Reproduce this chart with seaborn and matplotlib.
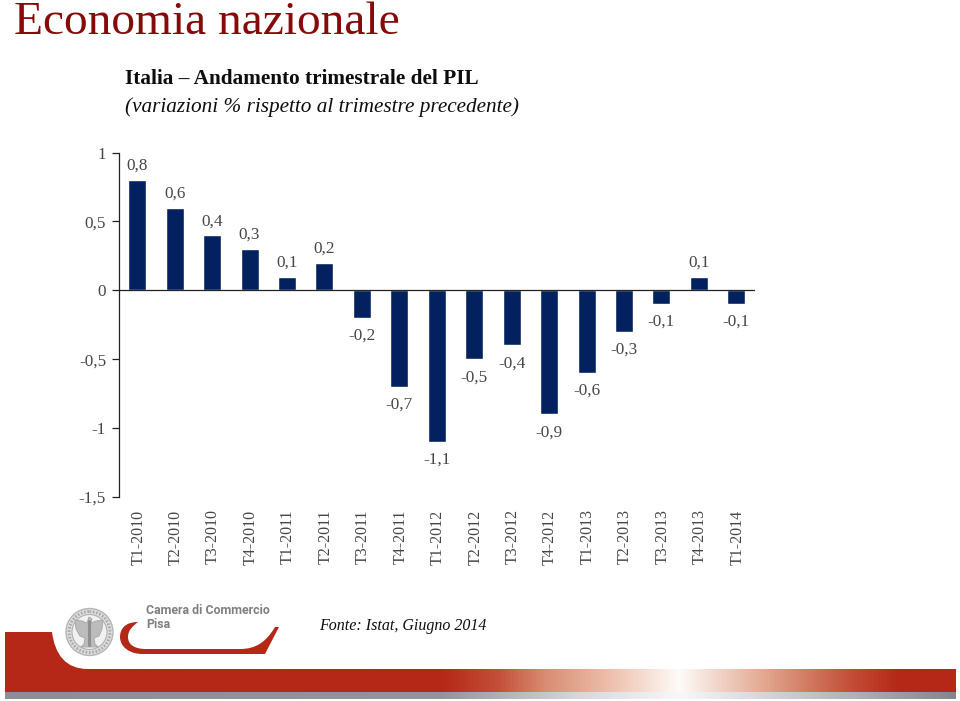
import numpy as np
import matplotlib
matplotlib.use("Agg")
import matplotlib.pyplot as plt
from matplotlib.colors import LinearSegmentedColormap
from matplotlib.patches import Circle, PathPatch, Polygon
from matplotlib.path import Path
from matplotlib.transforms import ScaledTranslation
import seaborn as sns

# Data
periods = ["T1-2010", "T2-2010", "T3-2010", "T4-2010", "T1-2011", "T2-2011",
           "T3-2011", "T4-2011", "T1-2012", "T2-2012", "T3-2012", "T4-2012",
           "T1-2013", "T2-2013", "T3-2013", "T4-2013", "T1-2014"]
gdp_change = [0.8, 0.6, 0.4, 0.3, 0.1, 0.2, -0.2, -0.7, -1.1, -0.5, -0.4, -0.9,
              -0.6, -0.3, -0.1, 0.1, -0.1]
y_ticks = [1, 0.5, 0, -0.5, -1, -1.5]
y_tick_labels = ["1", "0,5", "0", "-0,5", "-1", "-1,5"]

W, H = 960, 701
NAVY = "#03215f"
RED = "#b52817"
TEXT = "#454545"

sns.set_theme(style="white")
plt.rcParams["font.family"] = ["Liberation Serif", "DejaVu Serif"]

fig = plt.figure(figsize=(W / 100, H / 100), dpi=100, facecolor="white")

# Overlay in pixel coordinates for the slide furniture
bg = fig.add_axes([0, 0, 1, 1])
bg.axis("off")

red_grad = LinearSegmentedColormap.from_list(
    "band", [(0, RED), (0.46, RED), (0.52, "#c4503a"), (0.57, "#d98e75"), (0.645, "#efc6b4"),
             (0.71, "#fefbf9"), (0.80, "#e3a78f"), (0.889, "#c4503a"), (0.94, RED), (1, RED)])
grey_grad = LinearSegmentedColormap.from_list(
    "strip", [(0, "#8e8f96"), (0.46, "#94959c"), (0.60, "#d5d6da"), (0.71, "#f8f8f9"),
              (0.85, "#c2c3c8"), (1, "#85868d")])
ramp = np.linspace(0, 1, 512).reshape(1, -1)
bg.imshow(ramp, cmap=red_grad, extent=(5, 956, 692, 669), aspect="auto", zorder=1)
bg.imshow(ramp, cmap=grey_grad, extent=(5, 956, 699, 692), aspect="auto", zorder=1)
bg.set_xlim(0, W)
bg.set_ylim(H, 0)

# curved red corner on the left of the band
corner = Path([(5, 632), (52, 632), (55, 655), (66, 669), (88, 669), (88, 670), (5, 670), (5, 632)],
              [Path.MOVETO, Path.LINETO, Path.CURVE4, Path.CURVE4, Path.CURVE4,
               Path.LINETO, Path.LINETO, Path.CLOSEPOLY])
bg.add_patch(PathPatch(corner, fc=RED, ec="none", zorder=2))

# logo: seal
bg.add_patch(Circle((89.5, 632), 23.5, fc="#dedede", ec="#b5b5b5", lw=1, zorder=2))
bg.add_patch(Circle((89.5, 632), 20.5, fc="none", ec="#a8a8a8", lw=2, ls=(0, (0.6, 0.6)), zorder=3))
bg.add_patch(Circle((89.5, 632), 17.5, fc="#f1f1f1", ec="#b0b0b0", lw=0.8, zorder=3))
eagle = [(89, 617), (92, 619), (91, 623), (96, 621), (103, 620), (102, 629), (99, 636), (94, 638),
         (95, 644), (98, 647), (81, 647), (84, 644), (85, 638), (80, 636), (76, 629), (75, 620),
         (82, 621), (87, 623)]
bg.add_patch(Polygon(eagle, closed=True, fc="#bcbcbc", ec="#a5a5a5", lw=0.6, zorder=4))
bg.plot([89, 89], [621, 645], color="#8f8f8f", lw=2.2, zorder=5)

# logo: swoosh
swoosh = Path([(138, 622), (124, 622), (120, 630), (120, 637), (120, 647), (130, 654), (142, 654),
               (265, 654), (279, 627), (275, 627),
               (266, 642), (256, 649), (240, 649),
               (146, 649), (135, 649), (128, 645), (128, 637), (128, 630), (133, 626), (138, 622)],
              [Path.MOVETO, Path.CURVE4, Path.CURVE4, Path.CURVE4, Path.CURVE4, Path.CURVE4, Path.CURVE4,
               Path.LINETO, Path.LINETO, Path.LINETO,
               Path.CURVE4, Path.CURVE4, Path.CURVE4,
               Path.LINETO, Path.CURVE4, Path.CURVE4, Path.CURVE4, Path.CURVE4, Path.CURVE4, Path.CURVE4])
bg.add_patch(PathPatch(swoosh, fc=RED, ec="none", zorder=2))
bg.text(146, 611, "Camera di Commercio", family=["Roboto", "Liberation Sans"],
        fontsize=8.9, fontweight="bold", color="#808080", va="center", ha="left")
bg.text(146, 624, "Pisa", family=["Roboto", "Liberation Sans"], fontsize=8.9, fontweight="bold",
        color="#808080", va="center", ha="left")

# Slide text
bg.text(14, 23, "Economia nazionale", fontsize=34.2, color="#860a0a", va="center", ha="left")
bg.text(125, 79.5, "Italia – Andamento trimestrale del PIL", fontsize=15.3, fontweight="bold",
        color="#0d0d0d", va="center", ha="left")
bg.text(125, 107, "(variazioni % rispetto al trimestre precedente)", fontsize=15.3, style="italic",
        color="#0d0d0d", va="center", ha="left")
bg.text(319, 626, "Fonte: Istat, Giugno 2014", fontsize=11.5, style="italic",
        color="#0d0d0d", va="center", ha="left")

# Chart: y=1 at 152.5px, y=-1.5 at 497px, x from 118.5 to 755px
ax = fig.add_axes([118.5 / W, 1 - 497 / H, (755 - 118.5) / W, (497 - 152.5) / H])
ax.patch.set_alpha(0)
sns.barplot(x=periods, y=gdp_change, color=NAVY, saturation=1, width=0.48, ax=ax)
ax.set_xlim(-0.5, len(periods) - 0.5)
ax.set_ylim(-1.5, 1)

ax.set_yticks(y_ticks)
ax.set_yticklabels(y_tick_labels)
ax.tick_params(axis="y", length=5, width=0.9, color="#222222", labelsize=12.3, labelcolor=TEXT, pad=4, left=True)
ax.tick_params(axis="x", length=0, labelsize=11.5, labelcolor=TEXT, rotation=90, pad=9)
nudge = ScaledTranslation(1 / 100, 0, fig.dpi_scale_trans)
for lab in ax.get_xticklabels():
    lab.set_transform(lab.get_transform() + nudge)

sns.despine(ax=ax, top=True, right=True)
ax.spines["left"].set_linewidth(0.9)
ax.spines["left"].set_color("#222222")
ax.spines["bottom"].set_visible(False)
ax.axhline(0, color="#222222", lw=0.9, zorder=5)

for i, v in enumerate(gdp_change):
    label = f"{v:.1f}".replace(".", ",")
    ax.annotate(label, (i, v), xytext=(0, 6 if v > 0 else -10), textcoords="offset pixels",
                ha="center", va="bottom" if v > 0 else "top", fontsize=12.3, color=TEXT)

fig.savefig("out.png", dpi=100)
